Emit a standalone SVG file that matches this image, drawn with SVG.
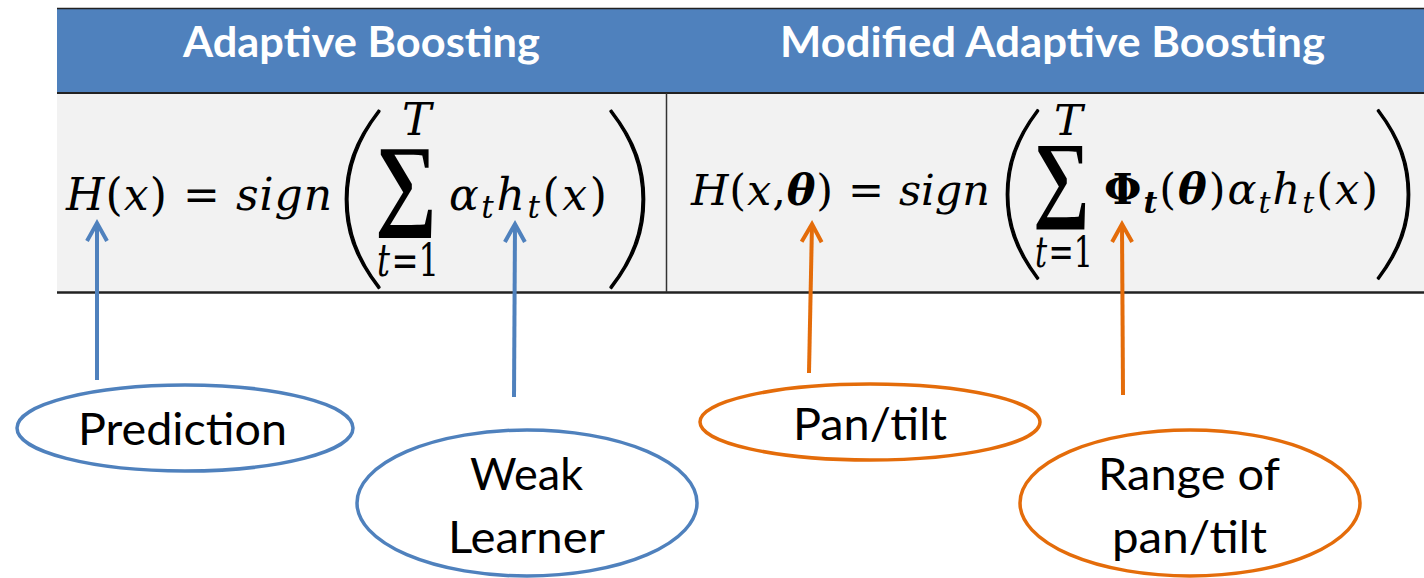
<svg xmlns="http://www.w3.org/2000/svg" width="1424" height="578" viewBox="0 0 1424 578">
  <style>
    .hdr { font-family: Lato, "Open Sans", "Liberation Sans", sans-serif; font-weight: 700; font-size: 42px; fill: #ffffff; }
    .m { font-family: "DejaVu Serif", "Liberation Serif", serif; font-size: 44px; fill: #000000; }
    .m2 { font-family: "DejaVu Serif", "Liberation Serif", serif; font-size: 43px; fill: #000000; }
    .i { font-style: italic; }
    .bi { font-style: italic; font-weight: 700; }
    .b { font-weight: 700; }
    .delim { font-family: Lato, "Liberation Sans", sans-serif; font-weight: 200; fill: #000000; stroke: #000000; stroke-width: 1.2; }
    .sum { font-family: "Liberation Serif", "DejaVu Serif", serif; font-weight: 700; fill: #000000; }
    .lbl { font-family: Lato, "Open Sans", "Liberation Sans", sans-serif; font-size: 45px; fill: #000000; }
    .ell-blue { fill: #ffffff; stroke: #4F81BD; stroke-width: 3.5; }
    .ell-orange { fill: #ffffff; stroke: #E46C0A; stroke-width: 3.5; }
    .arr-blue { stroke: #4F81BD; stroke-width: 4; fill: none; marker-end: url(#headBlue); }
    .arr-orange { stroke: #E46C0A; stroke-width: 4; fill: none; marker-end: url(#headOrange); }
  </style>
  <defs>
    <marker id="headBlue" markerUnits="userSpaceOnUse" markerWidth="40" markerHeight="40" refX="0" refY="0" viewBox="-25 -20 40 40" orient="auto" overflow="visible">
      <path d="M-18,-10 L0,0 L-18,10" fill="none" stroke="#4F81BD" stroke-width="4"/>
    </marker>
    <marker id="headOrange" markerUnits="userSpaceOnUse" markerWidth="40" markerHeight="40" refX="0" refY="0" viewBox="-25 -20 40 40" orient="auto" overflow="visible">
      <path d="M-18,-10 L0,0 L-18,10" fill="none" stroke="#E46C0A" stroke-width="4"/>
    </marker>
  </defs>

  <rect width="1424" height="578" fill="#ffffff"/>

  <!-- comparison table -->
  <g id="table">
    <rect x="57" y="8" width="1367" height="85" fill="#4F81BD"/>
    <rect x="57" y="93" width="1367" height="199" fill="#F2F2F2"/>
    <line x1="57" y1="8.5" x2="1424" y2="8.5" stroke="#222222" stroke-width="1.5"/>
    <line x1="57" y1="93" x2="1424" y2="93" stroke="#222222" stroke-width="2"/>
    <line x1="57" y1="292.5" x2="1424" y2="292.5" stroke="#222222" stroke-width="2.5"/>
    <line x1="666.5" y1="93" x2="666.5" y2="292" stroke="#333333" stroke-width="1.5"/>
    <text class="hdr" x="183" y="57" textLength="357" lengthAdjust="spacingAndGlyphs">Adaptive Boosting</text>
    <text class="hdr" x="780" y="57" textLength="545" lengthAdjust="spacingAndGlyphs">Modified Adaptive Boosting</text>
  </g>

  <!-- H(x) = sign( sum_{t=1}^{T} alpha_t h_t(x) ) -->
  <g id="formula-adaboost">
    <text class="m" x="66" y="210" textLength="101" lengthAdjust="spacing"><tspan class="i">H</tspan>(<tspan class="i">x</tspan>)</text>
    <text class="m" x="183" y="210">=</text>
    <text class="m i" x="236" y="210" textLength="96" lengthAdjust="spacing">sign</text>
    <text class="delim" x="330" y="264" font-size="205" textLength="60" lengthAdjust="spacingAndGlyphs">(</text>
    <text class="sum" x="375" y="216" font-size="102" textLength="62" lengthAdjust="spacingAndGlyphs">∑</text>
    <text class="m i" x="402" y="135" font-size="23">T</text>
    <text class="m" x="377" y="276" font-size="30" textLength="62" lengthAdjust="spacingAndGlyphs"><tspan class="i">t</tspan><tspan dx="2">=1</tspan></text>
    <text class="m" x="449" y="210" textLength="158" lengthAdjust="spacing"><tspan class="i">α</tspan><tspan class="i" font-size="31" dy="8">t</tspan><tspan class="i" dy="-8">h</tspan><tspan class="i" font-size="31" dy="8">t</tspan><tspan dy="-8">(</tspan><tspan class="i">x</tspan>)</text>
    <text class="delim" x="600" y="264" font-size="205" textLength="60" lengthAdjust="spacingAndGlyphs">)</text>
  </g>

  <!-- H(x, theta) = sign( sum_{t=1}^{T} Phi_t(theta) alpha_t h_t(x) ) -->
  <g id="formula-modified">
    <text class="m2" x="691" y="205" textLength="142" lengthAdjust="spacing"><tspan class="i">H</tspan>(<tspan class="i">x</tspan>,<tspan class="bi">θ</tspan>)</text>
    <text class="m2" x="848" y="205">=</text>
    <text class="m2 i" x="899" y="205" textLength="91" lengthAdjust="spacing">sign</text>
    <text class="delim" x="992" y="256" font-size="195" textLength="56" lengthAdjust="spacingAndGlyphs">(</text>
    <text class="sum" x="1033" y="209" font-size="96" textLength="57" lengthAdjust="spacingAndGlyphs">∑</text>
    <text class="m2 i" x="1054" y="135" font-size="23">T</text>
    <text class="m2" x="1035" y="267" font-size="28" textLength="58" lengthAdjust="spacingAndGlyphs"><tspan class="i">t</tspan><tspan dx="2">=1</tspan></text>
    <text class="m2" x="1104" y="204" textLength="274" lengthAdjust="spacing"><tspan class="b">Φ</tspan><tspan class="bi" font-size="30" dy="9">t</tspan><tspan dy="-9">(</tspan><tspan class="bi">θ</tspan>)<tspan class="i">α</tspan><tspan class="i" font-size="30" dy="9">t</tspan><tspan class="i" dy="-9">h</tspan><tspan class="i" font-size="30" dy="9">t</tspan><tspan dy="-9">(</tspan><tspan class="i">x</tspan>)</text>
    <text class="delim" x="1368" y="256" font-size="195" textLength="56" lengthAdjust="spacingAndGlyphs">)</text>
  </g>

  <!-- callout arrows -->
  <g id="connectors">
    <line class="arr-blue" x1="97" y1="380" x2="97" y2="223"/>
    <line class="arr-blue" x1="514" y1="397" x2="515" y2="224"/>
    <line class="arr-orange" x1="809" y1="373" x2="812" y2="224"/>
    <line class="arr-orange" x1="1123" y1="395" x2="1122" y2="224"/>
  </g>

  <g id="prediction">
    <ellipse class="ell-blue" cx="185" cy="428" rx="168" ry="43"/>
    <text class="lbl" x="78" y="445" textLength="209" lengthAdjust="spacingAndGlyphs">Prediction</text>
  </g>

  <g id="weak-learner">
    <ellipse class="ell-blue" cx="527" cy="503" rx="170" ry="73"/>
    <text class="lbl" x="470" y="490" textLength="113" lengthAdjust="spacingAndGlyphs">Weak</text>
    <text class="lbl" x="448" y="553" textLength="157" lengthAdjust="spacingAndGlyphs">Learner</text>
  </g>

  <g id="pan-tilt">
    <ellipse class="ell-orange" cx="870" cy="422" rx="170" ry="38"/>
    <text class="lbl" x="793" y="440" textLength="154" lengthAdjust="spacingAndGlyphs">Pan/tilt</text>
  </g>

  <g id="range-pan-tilt">
    <ellipse class="ell-orange" cx="1190" cy="503" rx="170" ry="73"/>
    <text class="lbl" x="1098" y="490" textLength="182" lengthAdjust="spacingAndGlyphs">Range of</text>
    <text class="lbl" x="1112" y="553" textLength="155" lengthAdjust="spacingAndGlyphs">pan/tilt</text>
  </g>
</svg>
